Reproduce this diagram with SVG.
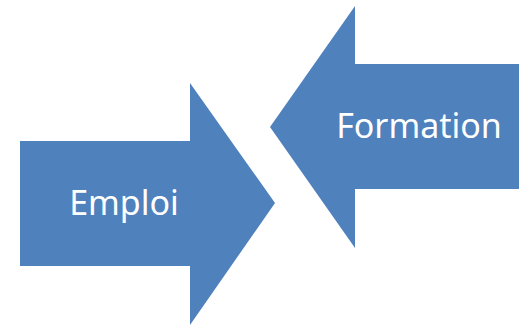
<svg xmlns="http://www.w3.org/2000/svg" width="519" height="326" viewBox="0 0 519 326">
<style>
.arrow{fill:#4F81BD;stroke:none}
.lbl{font-family:"Noto Sans","Open Sans","Liberation Sans",sans-serif;font-size:34px;fill:#FFFFFF;text-anchor:middle}
</style>
<rect width="519" height="326" fill="#FFFFFF"/>
<g id="emploi">
<polygon class="arrow" points="20,141 190,141 190,83 275,203 190,325 190,266 20,266"/>
<text class="lbl" x="124" y="215">Emploi</text>
</g>
<g id="formation">
<polygon class="arrow" points="519,64 355,64 355,6 270,127 355,248 355,189 519,189"/>
<text class="lbl" x="419" y="138">Formation</text>
</g>
<g id="connectors"></g>
</svg>
